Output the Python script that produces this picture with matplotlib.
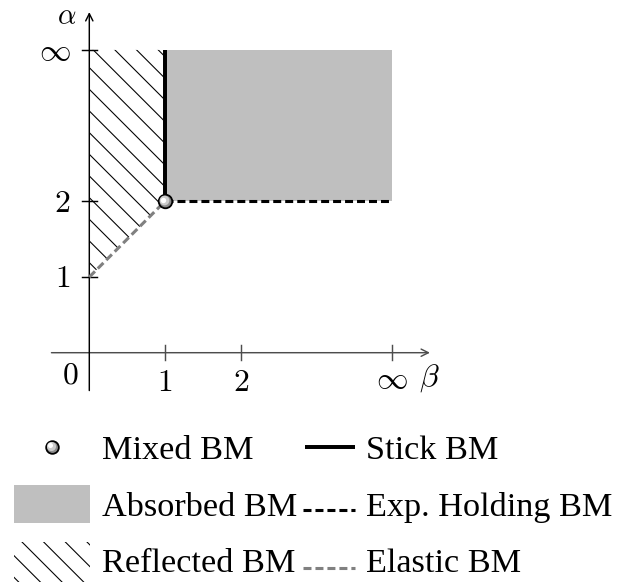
import numpy as np
import matplotlib
matplotlib.use('Agg')
import matplotlib.pyplot as plt
from matplotlib.patches import Polygon, Rectangle
from matplotlib.transforms import offset_copy

plt.rcParams['mathtext.fontset'] = 'cm'
plt.rcParams['hatch.linewidth'] = 0.6

DPI = 130
INF = 4  # where "infinity" sits on both axes
TICK_FS = 17.5

# tick positions / labels
x_ticks = [1, 2, INF]
x_tick_labels = [r'$1$', r'$2$', r'$\infty$']
y_ticks = [1, 2, INF]
y_tick_labels = [r'$1$', r'$2$', r'$\infty$']

# regions and boundaries in (beta, alpha)
absorbed_beta = [1, INF]
absorbed_alpha = [2, INF]
reflected_beta = [0, 1, 1, 0]
reflected_alpha = [1, 2, INF, INF]
stick_beta = [1, 1]
stick_alpha = [2, INF]
holding_beta = [1, INF]
holding_alpha = [2, 2]
elastic_beta = [0, 1]
elastic_alpha = [1, 2]
mixed_beta = [1]
mixed_alpha = [2]

legend_labels = ['Mixed BM', 'Stick BM',
                 'Absorbed BM', 'Exp. Holding BM',
                 'Reflected BM', 'Elastic BM']

# styles
gray_fill = '0.75'
stick_style = dict(color='black', lw=2.2, solid_capstyle='butt')
holding_style = dict(color='black', lw=1.7, dashes=(2.6, 1.3))
elastic_style = dict(color='0.5', lw=1.7, dashes=(2.6, 1.3))
hatch_style = dict(fill=False, hatch='\\\\', edgecolor='black', lw=0)


def shaded_ball(axis, xs, ys, size=7.5):
    # light grey ball with a highlight towards the upper left
    axis.plot(xs, ys, 'o', ms=size, mfc='0.55', mec='black', mew=1.0,
              clip_on=False, zorder=4)
    axis.plot(xs, ys, 'o', ms=size * 0.72, mfc='0.8', mew=0, clip_on=False, zorder=5,
              transform=offset_copy(axis.transData, fig=fig, x=-0.5, y=0.5, units='points'))
    axis.plot(xs, ys, 'o', ms=size * 0.4, mfc='white', mew=0, clip_on=False, zorder=6,
              transform=offset_copy(axis.transData, fig=fig, x=-0.9, y=0.9, units='points'))


fig = plt.figure(figsize=(625 / DPI, 582 / DPI), dpi=DPI)

# main diagram: origin at pixel (89.3, 352.7), 75.7 px per unit
ax = fig.add_axes([13.6 / 625, (582 - 428.4) / 582, 454.2 / 625, 423.9 / 582])
ax.set_xlim(-1.0, 5.0)
ax.set_ylim(-1.0, 4.6)
ax.axis('off')

ax.fill_between(absorbed_beta, absorbed_alpha[0], absorbed_alpha[1],
                color=gray_fill, lw=0, zorder=1)
ax.add_patch(Polygon(list(zip(reflected_beta, reflected_alpha)), closed=True,
                     zorder=1, **hatch_style))

# axes with arrows
ax.annotate('', xy=(4.5, 0), xytext=(-0.5, 0),
            arrowprops=dict(arrowstyle='->', color='0.3', lw=0.8,
                            shrinkA=0, shrinkB=0, mutation_scale=10))
ax.annotate('', xy=(0, 4.5), xytext=(0, -0.5),
            arrowprops=dict(arrowstyle='->', color='black', lw=0.8,
                            shrinkA=0, shrinkB=0, mutation_scale=10))
for t, lab in zip(x_ticks, x_tick_labels):
    ax.plot([t, t], [-0.1, 0.1], color='0.3', lw=0.8)
    ax.text(t, -0.36 if t == INF else -0.39, lab, fontsize=TICK_FS,
            ha='center', va='center')
for t, lab in zip(y_ticks, y_tick_labels):
    ax.plot([-0.1, 0.1], [t, t], color='black', lw=0.8)
    ax.text(-0.25, t - 0.025, lab, fontsize=TICK_FS, ha='right', va='center')
ax.text(-0.255, -0.295, r'$0$', fontsize=TICK_FS, ha='center', va='center')
ax.text(4.49, -0.33, r'$\beta$', fontsize=TICK_FS, ha='center', va='center')
ax.text(-0.30, 4.44, r'$\alpha$', fontsize=16, ha='center', va='center')

ax.plot(elastic_beta, elastic_alpha, zorder=3, **elastic_style)
ax.plot(holding_beta, holding_alpha, zorder=3, **holding_style)
ax.plot(stick_beta, stick_alpha, zorder=3, **stick_style)
shaded_ball(ax, mixed_beta, mixed_alpha)

# legend, drawn in pixel coordinates
lax = fig.add_axes([0, 0, 1, 1])
lax.set_xlim(0, 625)
lax.set_ylim(582, 0)
lax.axis('off')

shaded_ball(lax, [52], [447], size=7)
lax.plot([305, 355], [447, 447], **stick_style)
lax.add_patch(Rectangle((14, 485), 76, 38, color=gray_fill, lw=0))
lax.plot([303, 355], [510, 510], **holding_style)
lax.add_patch(Rectangle((14, 542), 76, 40, **hatch_style))
lax.plot([303, 355], [568, 568], **elastic_style)

text_x = [102, 366]
text_base = [459, 516, 572]
for i, lab in enumerate(legend_labels):
    lax.text(text_x[i % 2], text_base[i // 2], lab, fontsize=19,
             family='Liberation Serif', ha='left', va='baseline')

fig.savefig('out.png', dpi=DPI)
